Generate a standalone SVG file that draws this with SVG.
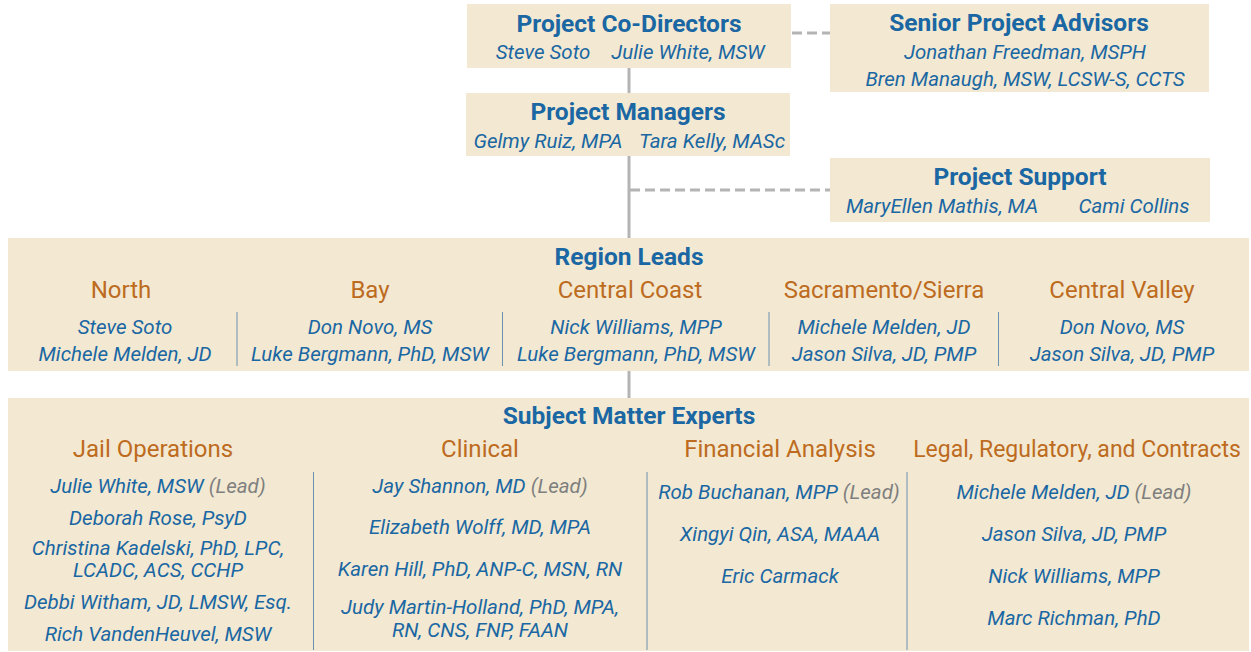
<svg xmlns="http://www.w3.org/2000/svg" width="1251" height="652" viewBox="0 0 1251 652">
  <style>
    .box { fill: #F3E9D2; }
    .title { font-family: Roboto, "Liberation Sans", sans-serif; font-weight: bold; font-size: 24.5px; fill: #1A67A3; text-anchor: middle; }
    .sub { font-family: Roboto, "Liberation Sans", sans-serif; font-size: 24px; fill: #BD6B1E; text-anchor: middle; }
    .sub-long { font-size: 23px; }
    .name { font-family: Roboto, "Liberation Sans", sans-serif; font-style: italic; font-size: 20.5px; fill: #1A67A3; text-anchor: middle; }
    .lead { fill: #7F7F7F; }
    .solid { stroke: #B4B4B4; stroke-width: 3; fill: none; }
    .dash { stroke: #B4B4B4; stroke-width: 3; stroke-dasharray: 10 5; fill: none; }
    .div { stroke: #6A8FAF; stroke-width: 1; }
  </style>

  <rect width="1251" height="652" fill="#ffffff"/>

  <!-- connectors -->
  <g id="connectors">
    <line class="solid" x1="629" y1="68" x2="629" y2="93"/>
    <line class="solid" x1="629" y1="156" x2="629" y2="238"/>
    <line class="solid" x1="629" y1="371" x2="629" y2="398"/>
    <line class="dash" x1="792" y1="33" x2="830" y2="33"/>
    <line class="dash" x1="630" y1="190" x2="830" y2="190"/>
  </g>

  <g id="co-directors">
    <rect class="box" x="467" y="4" width="324" height="64"/>
    <text class="title" x="629" y="32">Project Co-Directors</text>
    <text class="name" x="543" y="59">Steve Soto</text>
    <text class="name" x="688" y="59">Julie White, MSW</text>
  </g>

  <g id="senior-advisors">
    <rect class="box" x="830" y="4" width="379" height="88"/>
    <text class="title" x="1019" y="31">Senior Project Advisors</text>
    <text class="name" x="1025" y="59">Jonathan Freedman, MSPH</text>
    <text class="name" x="1025" y="86">Bren Manaugh, MSW, LCSW-S, CCTS</text>
  </g>

  <g id="managers">
    <rect class="box" x="466" y="93" width="324" height="63"/>
    <text class="title" x="628" y="120">Project Managers</text>
    <text class="name" x="548" y="148">Gelmy Ruiz, MPA</text>
    <text class="name" x="712" y="148">Tara Kelly, MASc</text>
  </g>

  <g id="support">
    <rect class="box" x="830" y="158" width="380" height="64"/>
    <text class="title" x="1020" y="185">Project Support</text>
    <text class="name" x="942" y="213">MaryEllen Mathis, MA</text>
    <text class="name" x="1134" y="213">Cami Collins</text>
  </g>

  <g id="region-leads">
    <rect class="box" x="8" y="238" width="1241" height="133"/>
    <text class="title" x="629" y="265">Region Leads</text>
    <text class="sub" x="121" y="298">North</text>
    <text class="sub" x="370" y="298">Bay</text>
    <text class="sub" x="630" y="298">Central Coast</text>
    <text class="sub" x="884" y="298">Sacramento/Sierra</text>
    <text class="sub" x="1122" y="298">Central Valley</text>
    <line class="div" x1="237" y1="312" x2="237" y2="366"/>
    <line class="div" x1="502.5" y1="312" x2="502.5" y2="366"/>
    <line class="div" x1="769" y1="312" x2="769" y2="366"/>
    <line class="div" x1="998.5" y1="312" x2="998.5" y2="366"/>
    <text class="name" x="125" y="334">Steve Soto</text>
    <text class="name" x="125" y="361">Michele Melden, JD</text>
    <text class="name" x="370" y="334">Don Novo, MS</text>
    <text class="name" x="370" y="361">Luke Bergmann, PhD, MSW</text>
    <text class="name" x="636" y="334">Nick Williams, MPP</text>
    <text class="name" x="636" y="361">Luke Bergmann, PhD, MSW</text>
    <text class="name" x="884" y="334">Michele Melden, JD</text>
    <text class="name" x="884" y="361">Jason Silva, JD, PMP</text>
    <text class="name" x="1122" y="334">Don Novo, MS</text>
    <text class="name" x="1122" y="361">Jason Silva, JD, PMP</text>
  </g>

  <g id="subject-matter-experts">
    <rect class="box" x="8" y="398" width="1241" height="253"/>
    <text class="title" x="629" y="424">Subject Matter Experts</text>
    <text class="sub" x="153" y="457">Jail Operations</text>
    <text class="sub" x="480" y="457">Clinical</text>
    <text class="sub" x="780" y="457">Financial Analysis</text>
    <text class="sub sub-long" x="1077" y="457">Legal, Regulatory, and Contracts</text>
    <line class="div" x1="313.5" y1="472" x2="313.5" y2="650"/>
    <line class="div" x1="647" y1="472" x2="647" y2="650"/>
    <line class="div" x1="907" y1="472" x2="907" y2="650"/>

    <text class="name" x="158" y="493">Julie White, MSW <tspan class="lead">(Lead)</tspan></text>
    <text class="name" x="158" y="525">Deborah Rose, PsyD</text>
    <text class="name" x="158" y="555">Christina Kadelski, PhD, LPC,</text>
    <text class="name" x="158" y="577">LCADC, ACS, CCHP</text>
    <text class="name" x="158" y="609">Debbi Witham,  JD, LMSW, Esq.</text>
    <text class="name" x="158" y="641">Rich VandenHeuvel, MSW</text>

    <text class="name" x="480" y="493">Jay Shannon, MD <tspan class="lead">(Lead)</tspan></text>
    <text class="name" x="480" y="534">Elizabeth Wolff, MD, MPA</text>
    <text class="name" x="480" y="576">Karen Hill, PhD, ANP-C, MSN, RN</text>
    <text class="name" x="480" y="614">Judy Martin-Holland, PhD, MPA,</text>
    <text class="name" x="480" y="637">RN, CNS, FNP, FAAN</text>

    <text class="name" x="779" y="499">Rob Buchanan, MPP <tspan class="lead">(Lead)</tspan></text>
    <text class="name" x="780" y="541">Xingyi Qin, ASA, MAAA</text>
    <text class="name" x="780" y="583">Eric Carmack</text>

    <text class="name" x="1074" y="499">Michele Melden, JD <tspan class="lead">(Lead)</tspan></text>
    <text class="name" x="1074" y="541">Jason Silva, JD, PMP</text>
    <text class="name" x="1074" y="583">Nick Williams, MPP</text>
    <text class="name" x="1074" y="625">Marc Richman, PhD</text>
  </g>
</svg>
